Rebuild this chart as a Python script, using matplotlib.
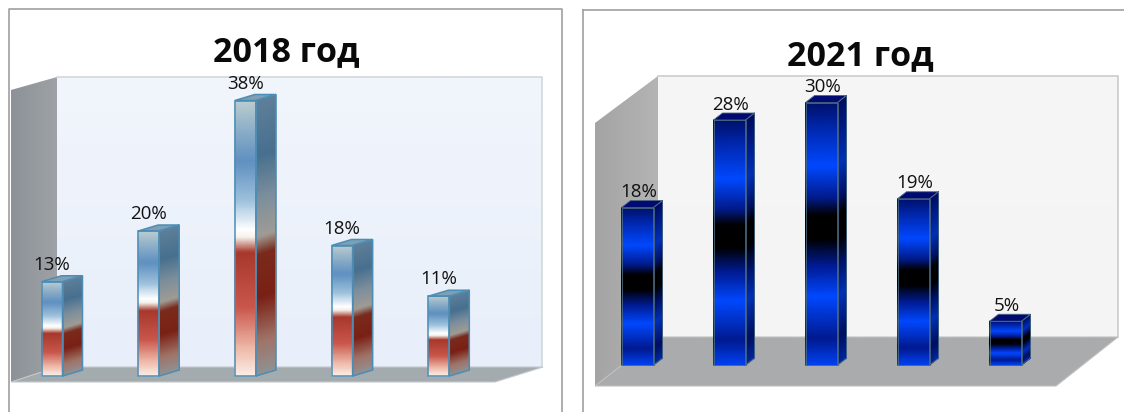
# -*- coding: utf-8 -*-
import numpy as np
import matplotlib
matplotlib.use('Agg')
import matplotlib.pyplot as plt
from matplotlib.colors import LinearSegmentedColormap as LSC
from matplotlib.patches import Polygon

W, H = 1124, 412

titles = ['2018 год', '2021 год']
values_2018 = [13, 20, 38, 18, 11]
values_2021 = [18, 28, 30, 19, 5]

plt.rcParams['font.family'] = ['Open Sans', 'DejaVu Sans']

# gradients run from top of the bar (0) to the bottom (1)
front_2018 = LSC.from_list('f18', [(0, '#bccdd0'), (.10, '#8fb0c8'), (.22, '#5f90c0'), (.36, '#9cc0dc'),
                                   (.47, '#ffffff'), (.50, '#f4efe8'), (.55, '#a8382c'), (.75, '#c9564a'),
                                   (.90, '#eeb8a8'), (1, '#fbeee6')])
side_2018 = LSC.from_list('s18', [(0, '#5f7f98'), (.20, '#47708f'), (.36, '#7d8f9c'), (.50, '#a09c94'),
                                  (.56, '#7a2a1c'), (.72, '#7a2015'), (.88, '#a07468'), (1, '#8f9294')])
front_2021 = LSC.from_list('f21', [(0, '#00106a'), (.10, '#0028b0'), (.24, '#0048ff'), (.36, '#001c90'),
                                   (.43, '#000000'), (.52, '#000000'), (.62, '#001a90'), (.74, '#0048ff'),
                                   (.90, '#001a90'), (1, '#0040f0')])
side_2021 = LSC.from_list('s21', [(0, '#000a60'), (.24, '#0030b8'), (.36, '#001268'), (.43, '#000000'),
                                  (.52, '#000000'), (.62, '#001268'), (.74, '#0030b8'), (.90, '#000f60'),
                                  (1, '#0028a0')])


def to_rgb_col(c):
    return matplotlib.colors.to_rgb(c)


def vgrad(ax, x0, x1, y0, y1, top, bottom):
    g = np.linspace(to_rgb_col(top), to_rgb_col(bottom), 64)[:, None, :]
    ax.imshow(g, extent=(x0, x1, y1, y0), aspect='auto', zorder=1, interpolation='bilinear')


def hgrad(ax, x0, x1, y0, y1, left, right):
    g = np.linspace(to_rgb_col(left), to_rgb_col(right), 64)[None, :, :]
    return ax.imshow(g, extent=(x0, x1, y1, y0), aspect='auto', zorder=1, interpolation='bilinear')


def draw_bar(ax, i, v, half, dx, dy, cf, cs, edge, topc, lw):
    t = np.linspace(0, 1, 120)
    y = v * (1 - t)
    # front face
    X = np.column_stack([np.full(120, i - half), np.full(120, i + half)])
    Y = np.column_stack([y, y])
    C = np.column_stack([t, t])
    ax.pcolormesh(X, Y, C, cmap=cf, vmin=0, vmax=1, shading='gouraud', zorder=4)
    # side face is the same gradient skewed back
    X2 = np.column_stack([np.full(120, i + half), np.full(120, i + half + dx)])
    Y2 = np.column_stack([y, y + dy])
    ax.pcolormesh(X2, Y2, C, cmap=cs, vmin=0, vmax=1, shading='gouraud', zorder=3)
    top = [(i - half, v), (i + half, v), (i + half + dx, v + dy), (i - half + dx, v + dy)]
    ax.add_patch(Polygon(top, closed=True, fc=topc, ec=edge, lw=lw, zorder=5))
    ax.add_patch(Polygon([(i - half, 0), (i + half, 0), (i + half, v), (i - half, v)], closed=True,
                         fc='none', ec=edge, lw=lw, zorder=6))
    ax.add_patch(Polygon([(i + half, 0), (i + half + dx, dy), (i + half + dx, v + dy), (i + half, v)],
                         closed=True, fc='none', ec=edge, lw=lw, zorder=6))


def draw_panel(fig, rect, c0, sp, base, scale, vals, bw, depth, cf, cs, edge, topc, lw, off, title, title_xy):
    x0, y0, x1, y1 = rect
    ax = fig.add_axes([x0 / W, 1 - y1 / H, (x1 - x0) / W, (y1 - y0) / H])
    ax.patch.set_visible(False)
    ax.set_axis_off()
    half = bw / 2.0 / sp
    dx = depth[0] / sp
    dy = depth[1] / scale
    for i, v in enumerate(vals):
        draw_bar(ax, i, v, half, dx, dy, cf, cs, edge, topc, lw)
        ax.annotate('%d%%' % v, (i, v), xytext=off, textcoords='offset pixels',
                    ha='center', va='center', fontsize=13.5, color='#111111', zorder=8)
    ax.set_xlim((x0 - c0) / sp, (x1 - c0) / sp)
    ax.set_ylim((base - y1) / scale, (base - y0) / scale)
    fig.text(title_xy[0] / W, 1 - title_xy[1] / H, title, fontsize=24.5, fontweight='bold',
             ha='center', va='center', color='#0a0a0a')


fig = plt.figure(figsize=(W / 100.0, H / 100.0), dpi=100)
bg = fig.add_axes([0, 0, 1, 1])
bg.set_axis_off()

# left chart frame, walls and floor
bg.plot([8.5, 8.5, 561.5, 561.5], [412, 8.5, 8.5, 412], color='#a0a0a0', lw=1.2, zorder=2)
vgrad(bg, 57, 542, 77, 367, '#f1f5fc', '#e8effa')
bg.plot([57, 542, 542], [77, 77, 367], color='#d4d8dc', lw=1.2, zorder=2)
im = hgrad(bg, 11, 57, 77, 382, '#8c9298', '#9ea2a6')
im.set_clip_path(Polygon([(11, 90), (57, 77), (57, 367), (11, 382)], transform=bg.transData))
bg.add_patch(Polygon([(11, 382), (57, 367), (543, 367), (495, 382)], fc='#a4abaf', ec='#c4c8cc', lw=.8, zorder=2))

# right chart frame, walls and floor
bg.plot([582.5, 582.5], [412, 9.5], color='#a0a0a0', lw=1.2, zorder=2)
bg.plot([582.5, 1124], [9.5, 9.5], color='#a0a0a0', lw=1.2, zorder=2)
vgrad(bg, 658, 1118, 76, 337, '#f6f6f7', '#f4f4f5')
bg.plot([658, 1118, 1118], [76, 76, 337], color='#cccccc', lw=1.2, zorder=2)
im = hgrad(bg, 595, 658, 76, 386, '#a4a4a4', '#b4b4b4')
im.set_clip_path(Polygon([(595, 123), (658, 76), (658, 337), (595, 386)], transform=bg.transData))
bg.add_patch(Polygon([(595, 386), (658, 337), (1118, 337), (1056, 386)], fc='#a9abac', ec='#c0c0c0', lw=.8, zorder=2))

bg.set_xlim(0, W)
bg.set_ylim(H, 0)

draw_panel(fig, (8, 8, 562, 412), 52, 96.7, 376, 7.25, values_2018, 21, (20, 6), front_2018, side_2018,
           '#4d8db5', '#7f9fb5', 1.1, (0, 17), titles[0], (286, 52))
draw_panel(fig, (582, 9, 1124, 412), 637.5, 92, 365, 8.75, values_2021, 32, (9, 7), front_2021, side_2021,
           '#4a6a80', '#000a70', .6, (1, 15.5), titles[1], (860, 56))

fig.savefig('out.png', dpi=100)
